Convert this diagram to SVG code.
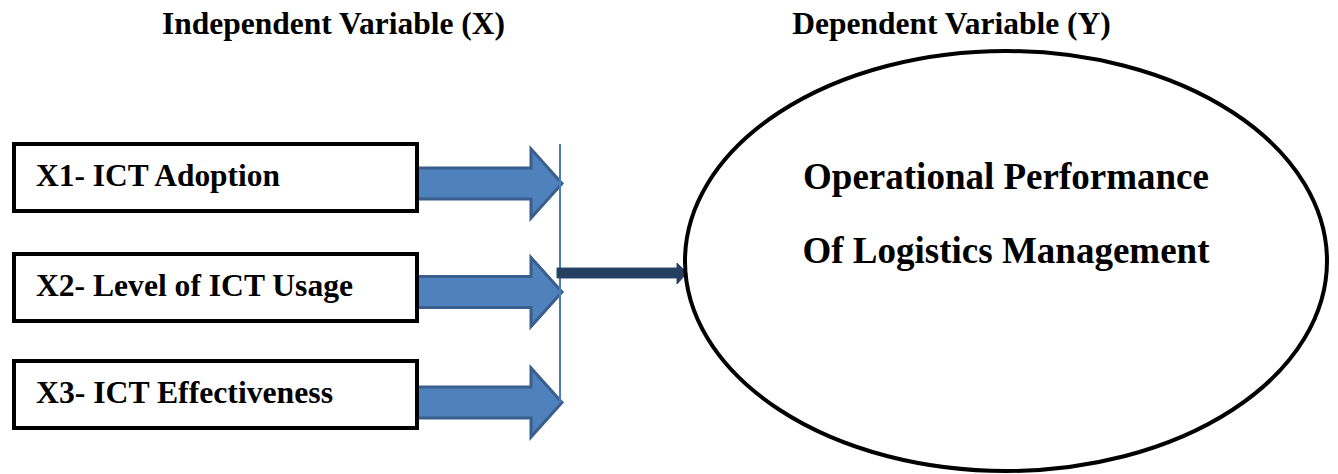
<svg xmlns="http://www.w3.org/2000/svg" width="1338" height="474" viewBox="0 0 1338 474">
<style>
.t{font-family:"Liberation Serif","Times New Roman",serif;font-weight:bold;fill:#000}
.title{font-size:31.5px}
.lbl{font-size:31px}
.big{font-size:37px}
.box{fill:#fff;stroke:#000;stroke-width:4}
.blk{fill:#4F81BD;stroke:#3A5F8E;stroke-width:3;stroke-linejoin:miter}
.bar{stroke:#4A7EBB;stroke-width:2;fill:none}
.dark{fill:#243F60;stroke:#2B4A70;stroke-width:1}
</style>
<rect width="1338" height="474" fill="#fff"/>
<text class="t title" x="333.5" y="34" text-anchor="middle">Independent Variable (X)</text>
<text class="t title" x="951.5" y="34" text-anchor="middle">Dependent Variable (Y)</text>
<g id="connectors">
<path class="blk" d="M410 168 H531 V149 L562 183.5 L531 218 V199 H410 Z"/>
<path class="blk" d="M410 276.5 H531 V257.5 L562 292 L531 326.5 V307.5 H410 Z"/>
<path class="blk" d="M410 387 H531 V368 L562 402.5 L531 437 V418 H410 Z"/>
<line class="bar" x1="560" y1="144" x2="560" y2="403"/>
<path class="dark" d="M557 268 H677 V263 L687 273 L677 284 V278 H557 Z"/>
</g>
<g id="x1"><rect class="box" x="14" y="144" width="403" height="67"/><text class="t lbl" x="36" y="186" textLength="244" lengthAdjust="spacingAndGlyphs">X1- ICT Adoption</text></g>
<g id="x2"><rect class="box" x="14" y="254" width="403" height="67"/><text class="t lbl" x="36" y="296" textLength="317" lengthAdjust="spacingAndGlyphs">X2- Level of ICT Usage</text></g>
<g id="x3"><rect class="box" x="14" y="361" width="403" height="67"/><text class="t lbl" x="36" y="403" textLength="297" lengthAdjust="spacingAndGlyphs">X3- ICT Effectiveness</text></g>
<g id="y"><ellipse cx="1006" cy="261" rx="321" ry="210" fill="none" stroke="#000" stroke-width="4"/>
<text class="t big" x="1006" y="189" text-anchor="middle">Operational Performance</text>
<text class="t big" x="1006" y="263" text-anchor="middle">Of Logistics Management</text></g>
</svg>
